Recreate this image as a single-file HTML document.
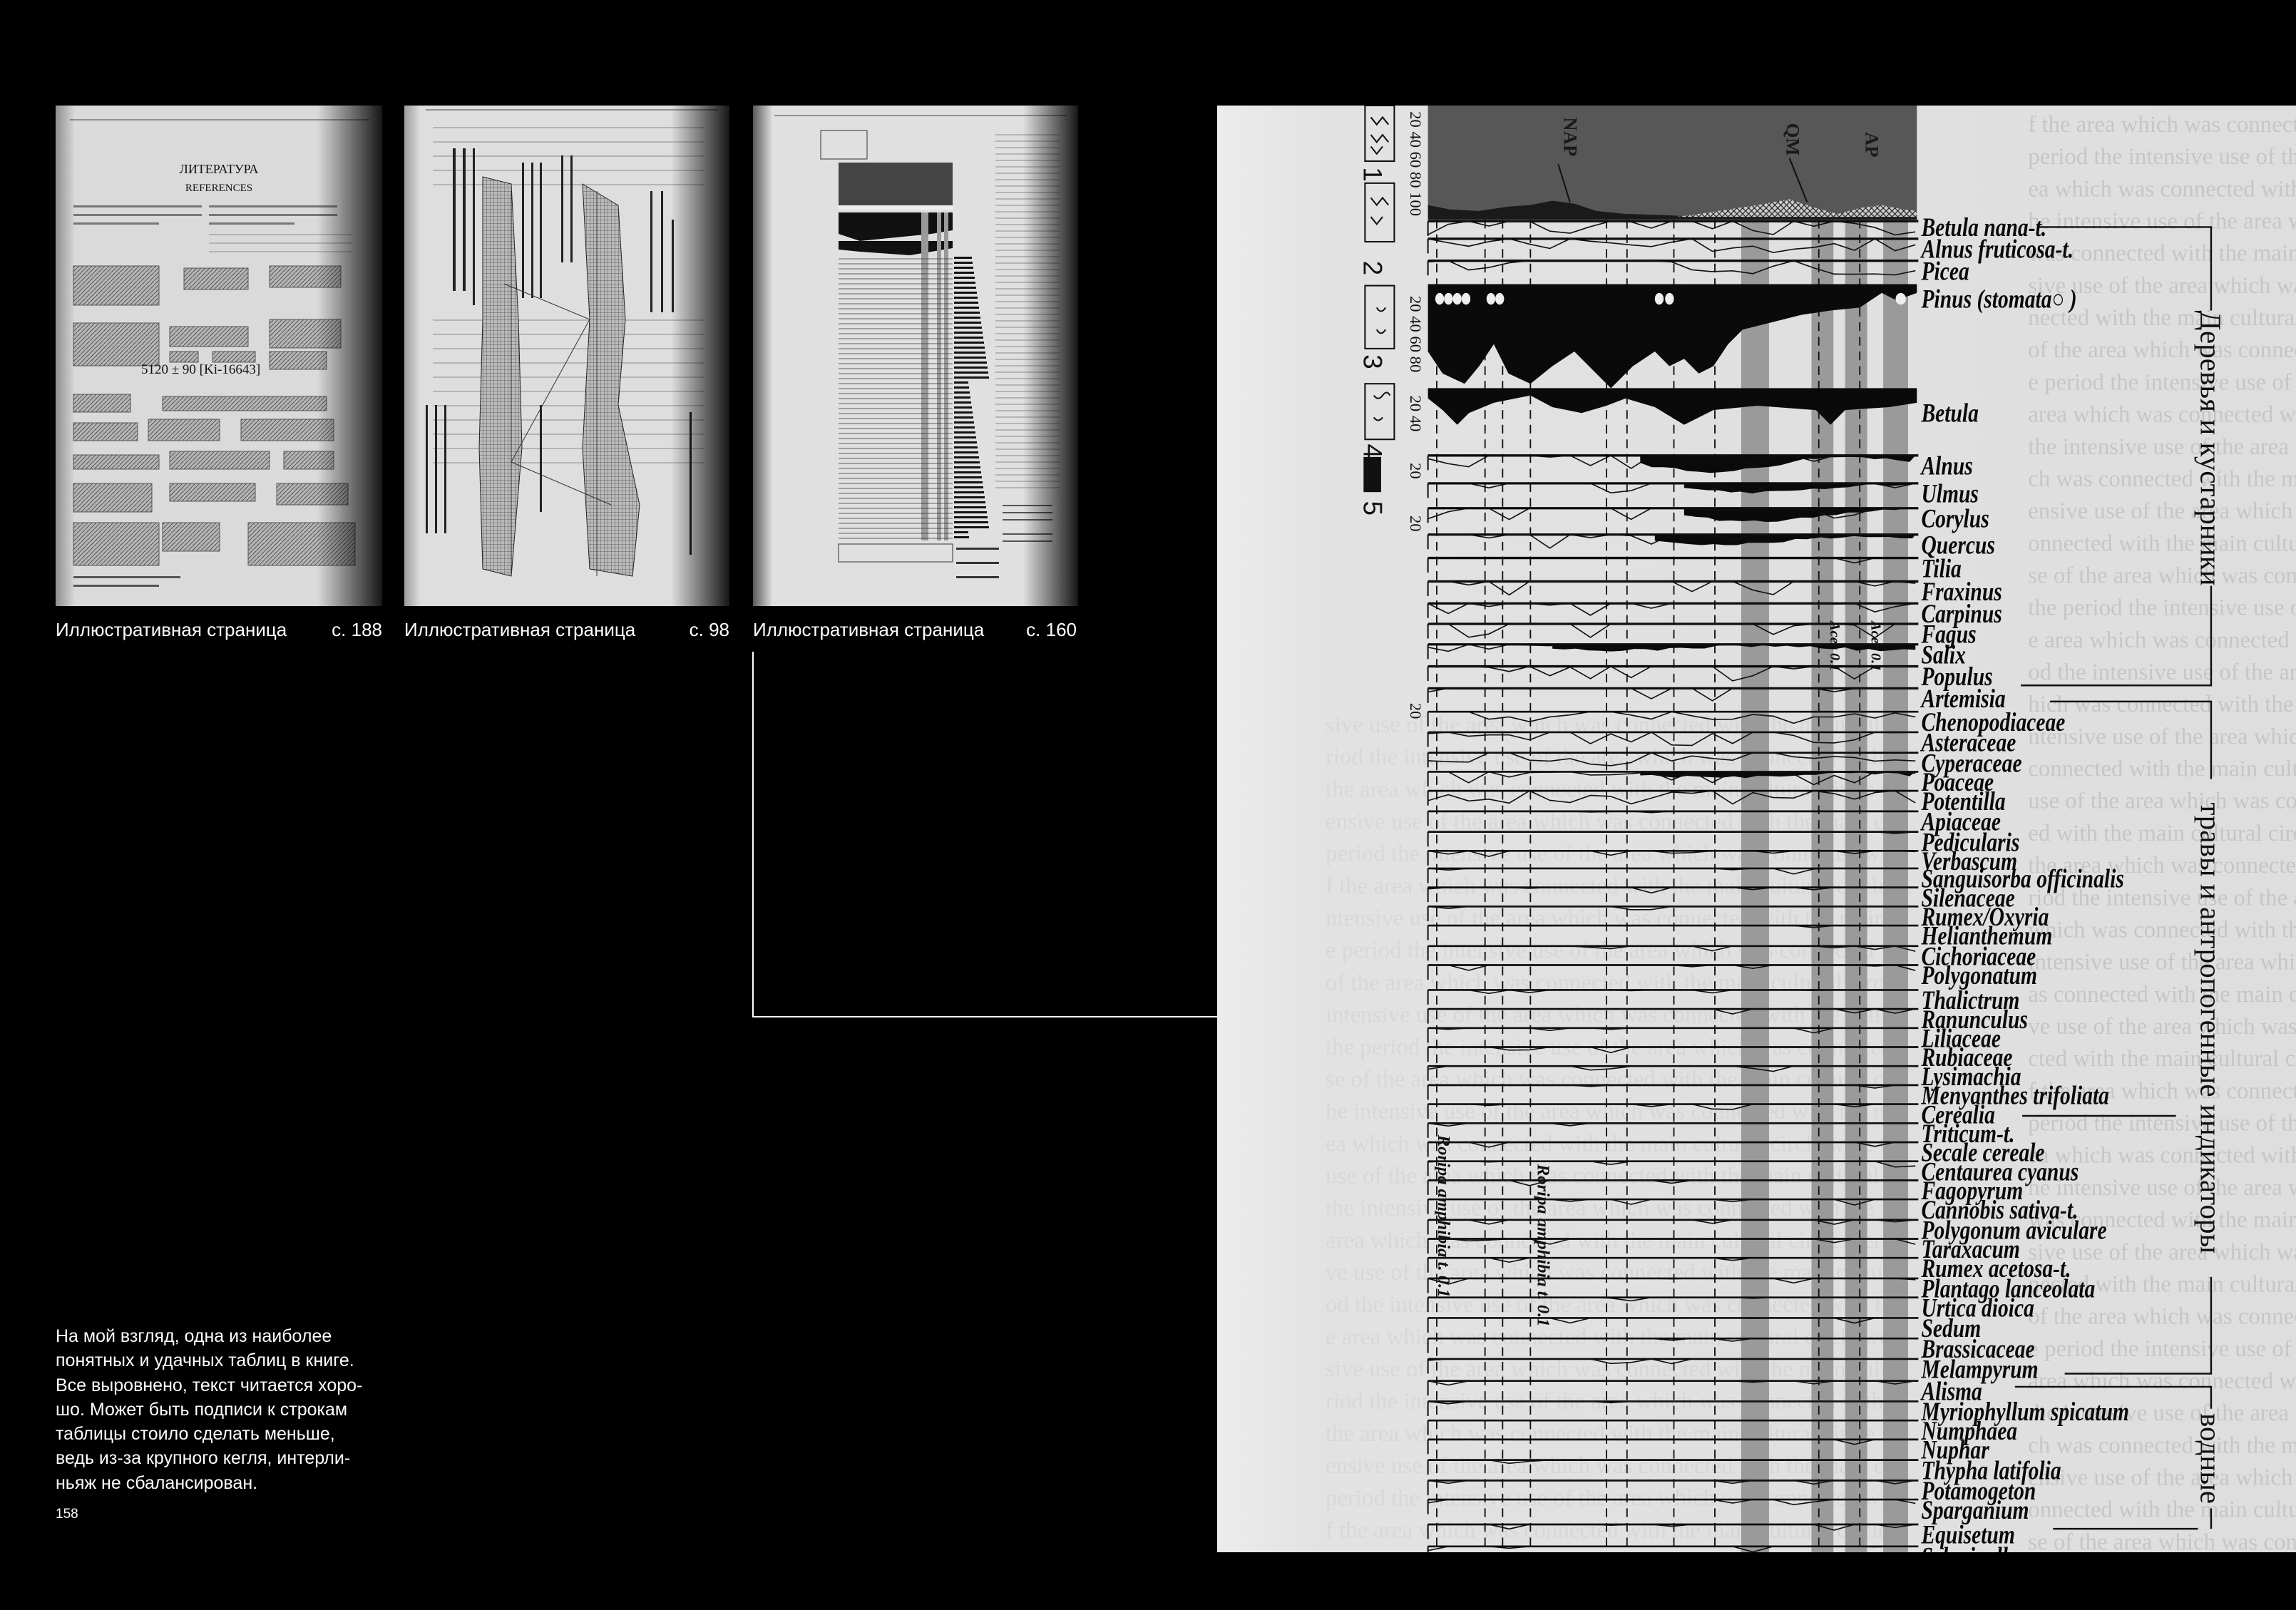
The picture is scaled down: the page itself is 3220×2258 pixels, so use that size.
<!DOCTYPE html>
<html><head><meta charset="utf-8">
<style>
html,body{margin:0;padding:0;background:#000;}
#root{position:relative;width:3220px;height:2258px;background:#000;overflow:hidden;font-family:"Liberation Sans",sans-serif;color:#fff;}
.th{position:absolute;top:148px;height:702px;}
.cap{position:absolute;top:866px;font-size:26px;line-height:34px;color:#fff;white-space:nowrap;}
.para{position:absolute;left:78px;top:1857px;font-size:25px;line-height:34.3px;color:#fff;}
</style></head>
<body><div id="root">

<!-- Thumbnail 1 -->
<svg class="th" style="left:78px;width:458px" viewBox="0 0 458 702" preserveAspectRatio="none">
<defs>
<linearGradient id="vg" x1="0" x2="1" y1="0" y2="0">
<stop offset="0" stop-color="#000" stop-opacity="0.35"/><stop offset="0.06" stop-color="#000" stop-opacity="0"/>
<stop offset="0.8" stop-color="#000" stop-opacity="0"/><stop offset="1" stop-color="#000" stop-opacity="0.9"/></linearGradient>
<pattern id="hp" width="6" height="6" patternUnits="userSpaceOnUse"><rect width="6" height="6" fill="#b5b5b5"/><path d="M0 6L6 0" stroke="#555" stroke-width="1"/></pattern>
</defs>
<rect width="458" height="702" fill="#dadada"/>
<line x1="20" y1="20" x2="440" y2="20" stroke="#444" stroke-width="1"/>
<text x="229" y="95" font-family="Liberation Serif" font-size="18" text-anchor="middle" fill="#111">ЛИТЕРАТУРА</text>
<text x="229" y="120" font-family="Liberation Serif" font-size="15" text-anchor="middle" fill="#111">REFERENCES</text>
<g fill="#777">
<rect x="25" y="140" width="180" height="3"/><rect x="25" y="152" width="180" height="3"/><rect x="25" y="164" width="120" height="3"/>
<rect x="215" y="140" width="180" height="3"/><rect x="215" y="152" width="180" height="3"/><rect x="215" y="164" width="120" height="3"/>
<rect x="215" y="180" width="200" height="2" opacity=".4"/><rect x="215" y="192" width="200" height="2" opacity=".4"/><rect x="215" y="204" width="200" height="2" opacity=".4"/>
</g>
<g fill="url(#hp)" stroke="#555">
<rect x="25" y="225" width="120" height="55"/><rect x="180" y="228" width="90" height="30"/><rect x="300" y="225" width="100" height="30"/>
<rect x="25" y="305" width="120" height="60"/><rect x="160" y="310" width="110" height="28"/><rect x="300" y="300" width="100" height="40"/>
<rect x="160" y="345" width="40" height="15"/><rect x="220" y="345" width="60" height="15"/><rect x="300" y="345" width="80" height="25"/>
<rect x="25" y="405" width="80" height="25"/><rect x="150" y="408" width="230" height="20"/>
<rect x="25" y="445" width="90" height="25"/><rect x="130" y="440" width="100" height="30"/><rect x="260" y="440" width="130" height="30"/>
<rect x="25" y="490" width="120" height="20"/><rect x="160" y="485" width="140" height="25"/><rect x="320" y="485" width="70" height="25"/>
<rect x="25" y="530" width="110" height="40"/><rect x="160" y="530" width="120" height="25"/><rect x="310" y="530" width="100" height="30"/>
<rect x="25" y="585" width="120" height="60"/><rect x="150" y="585" width="80" height="40"/><rect x="270" y="585" width="150" height="60"/>
</g>
<text x="120" y="376" font-family="Liberation Serif" font-size="19" fill="#111">5120 ± 90  [Ki-16643]</text>
<rect x="25" y="660" width="150" height="3" fill="#555"/><rect x="25" y="672" width="120" height="3" fill="#555"/>
<rect width="458" height="702" fill="url(#vg)"/>
</svg>

<!-- Thumbnail 2 -->
<svg class="th" style="left:567px;width:456px" viewBox="0 0 456 702" preserveAspectRatio="none">
<defs><linearGradient id="vg2" x1="0" x2="1"><stop offset="0" stop-color="#000" stop-opacity="0.3"/><stop offset="0.05" stop-color="#000" stop-opacity="0"/><stop offset="0.82" stop-color="#000" stop-opacity="0"/><stop offset="1" stop-color="#000" stop-opacity="0.9"/></linearGradient>
<pattern id="hp2" width="5" height="5" patternUnits="userSpaceOnUse"><rect width="5" height="5" fill="#bbb"/><path d="M0 0H5M0 0V5" stroke="#444" stroke-width="0.8"/></pattern></defs>
<rect width="456" height="702" fill="#dedede"/>
<line x1="30" y1="6" x2="440" y2="6" stroke="#444"/>
<g fill="#999" opacity=".6">
<rect x="40" y="30" width="380" height="2"/><rect x="40" y="50" width="380" height="2"/><rect x="40" y="70" width="380" height="2"/><rect x="40" y="90" width="380" height="2"/><rect x="40" y="110" width="380" height="2"/>
<rect x="40" y="300" width="380" height="2"/><rect x="40" y="320" width="380" height="2"/><rect x="40" y="340" width="380" height="2"/><rect x="40" y="360" width="380" height="2"/><rect x="40" y="380" width="380" height="2"/><rect x="40" y="400" width="380" height="2"/><rect x="40" y="420" width="380" height="2"/><rect x="40" y="440" width="380" height="2"/><rect x="40" y="460" width="380" height="2"/><rect x="40" y="480" width="380" height="2"/><rect x="40" y="500" width="380" height="2"/>
</g>
<g fill="#222">
<rect x="68" y="60" width="4" height="200"/><rect x="82" y="60" width="4" height="200"/><rect x="96" y="60" width="3" height="220"/>
<rect x="165" y="80" width="3" height="190"/><rect x="178" y="80" width="3" height="190"/><rect x="190" y="80" width="3" height="190"/>
<rect x="220" y="70" width="3" height="150"/><rect x="233" y="70" width="3" height="150"/>
<rect x="345" y="120" width="3" height="170"/><rect x="360" y="120" width="3" height="170"/><rect x="375" y="160" width="3" height="130"/>
<rect x="30" y="420" width="3" height="180"/><rect x="43" y="420" width="3" height="180"/><rect x="56" y="420" width="3" height="180"/>
<rect x="190" y="420" width="3" height="150"/><rect x="260" y="480" width="3" height="140"/><rect x="400" y="430" width="3" height="200"/>
</g>
<polygon points="110,100 150,110 160,300 165,480 150,660 110,650 105,480 110,300" fill="url(#hp2)" stroke="#222"/>
<polygon points="250,110 300,140 310,300 300,420 330,560 320,660 260,650 250,480 260,300" fill="url(#hp2)" stroke="#222"/>
<g stroke="#333" fill="none"><line x1="150" y1="120" x2="150" y2="660"/><line x1="270" y1="120" x2="270" y2="660"/><path d="M140 250 L260 300 L150 500 L290 560"/></g>
<rect width="456" height="702" fill="url(#vg2)"/>
</svg>

<!-- Thumbnail 3 -->
<svg class="th" style="left:1056px;width:456px" viewBox="0 0 456 702" preserveAspectRatio="none">
<defs><linearGradient id="vg3" x1="0" x2="1"><stop offset="0" stop-color="#000" stop-opacity="0.6"/><stop offset="0.06" stop-color="#000" stop-opacity="0"/><stop offset="0.83" stop-color="#000" stop-opacity="0"/><stop offset="1" stop-color="#000" stop-opacity="0.9"/></linearGradient></defs>
<rect width="456" height="702" fill="#e0e0e0"/>
<line x1="30" y1="14" x2="440" y2="14" stroke="#444"/>
<rect x="95" y="35" width="65" height="40" fill="none" stroke="#333"/>
<rect x="120" y="80" width="160" height="60" fill="#444"/>
<rect x="120" y="140" width="160" height="6" fill="#eee"/>
<polygon points="120,150 280,150 280,175 250,180 200,185 150,190 120,180" fill="#111"/>
<polygon points="120,190 280,190 280,200 220,210 150,205 120,202" fill="#111"/>
<g fill="#999"><rect x="236" y="150" width="10" height="460"/><rect x="258" y="150" width="6" height="460"/><rect x="268" y="150" width="6" height="460"/></g>
<g stroke="#333" stroke-width="0.7" id="t3l"></g>
<g fill="#111" id="t3t"></g>
<g fill="#999" opacity=".6" id="t3g"></g>
<rect x="120" y="615" width="160" height="25" fill="none" stroke="#333"/>
<rect x="285" y="620" width="60" height="3" fill="#333"/><rect x="285" y="640" width="60" height="3" fill="#333"/><rect x="285" y="660" width="60" height="3" fill="#333"/>
<rect x="350" y="560" width="70" height="2" fill="#555"/><rect x="350" y="570" width="70" height="2" fill="#555"/><rect x="350" y="580" width="70" height="2" fill="#555"/><rect x="350" y="600" width="70" height="2" fill="#555"/><rect x="350" y="610" width="70" height="2" fill="#555"/>
<rect width="456" height="702" fill="url(#vg3)"/>
</svg>

<div class="cap" style="left:78px">Иллюстративная страница</div>
<div class="cap" style="left:536px;transform:translateX(-100%)">с. 188</div>
<div class="cap" style="left:567px">Иллюстративная страница</div>
<div class="cap" style="left:1023px;transform:translateX(-100%)">с. 98</div>
<div class="cap" style="left:1056px">Иллюстративная страница</div>
<div class="cap" style="left:1510px;transform:translateX(-100%)">с. 160</div>

<div style="position:absolute;left:1055px;top:914px;width:2px;height:513px;background:#fff"></div>
<div style="position:absolute;left:1055px;top:1425px;width:652px;height:2px;background:#fff"></div>

<div class="para">На мой взгляд, одна из наиболее<br>понятных и удачных таблиц в книге.<br>Все выровнено, текст читается хоро-<br>шо. Может быть подписи к строкам<br>таблицы стоило сделать меньше,<br>ведь из-за крупного кегля, интерли-<br>ньяж не сбалансирован.</div>
<div style="position:absolute;left:78px;top:2113px;font-size:19px;color:#fff">158</div>

<!-- Main diagram panel -->
<svg id="main" style="position:absolute;left:1707px;top:148px;width:1513px;height:2029px" viewBox="831 72 737 988" preserveAspectRatio="none">
<defs>
<pattern id="xh" width="4" height="4" patternUnits="userSpaceOnUse"><rect width="4" height="4" fill="#ccc"/><path d="M0 0L4 4M4 0L0 4" stroke="#222" stroke-width="0.6"/></pattern>
<linearGradient id="pg" x1="0" x2="1"><stop offset="0" stop-color="#ececec"/><stop offset="0.1" stop-color="#e2e2e2"/><stop offset="1" stop-color="#dedede"/></linearGradient>
</defs>
<rect x="831" y="72" width="737" height="988" fill="url(#pg)"/>
<g id="ghost" font-family="Liberation Serif" font-size="16" fill="#c6c6c6"></g>

<!-- gray bands -->
<g fill="#9a9a9a">
<rect x="1189" y="150" width="19" height="910"/>
<rect x="1237" y="150" width="15" height="910"/>
<rect x="1260" y="150" width="15" height="910"/>
<rect x="1286" y="150" width="17" height="910"/>
</g>
<!-- dashed verticals -->
<g stroke="#111" stroke-width="0.9" stroke-dasharray="6 4">
<line x1="981" y1="150" x2="981" y2="1060"/><line x1="1014" y1="150" x2="1014" y2="1060"/><line x1="1026" y1="150" x2="1026" y2="1060"/><line x1="1045" y1="150" x2="1045" y2="1060"/><line x1="1097" y1="150" x2="1097" y2="1060"/><line x1="1111" y1="150" x2="1111" y2="1060"/><line x1="1143" y1="150" x2="1143" y2="1060"/><line x1="1171" y1="150" x2="1171" y2="1060"/><line x1="1242" y1="150" x2="1242" y2="1060"/><line x1="1270" y1="150" x2="1270" y2="1060"/>
</g>

<!-- top chart -->
<rect x="975" y="72" width="334" height="78" fill="#575757"/>
<polygon points="975,150 975,140 990,143 1010,144 1030,141 1045,140 1060,137 1075,139 1090,144 1110,146 1140,147 1160,148 1309,148 1309,150" fill="#1a1a1a"/>
<polygon points="1145,148 1160,146 1180,143 1200,140 1222,136 1240,142 1255,146 1270,142 1285,140 1300,143 1309,144 1309,148" fill="url(#xh)"/>
<polyline points="1064,112 1072,138" stroke="#111" stroke-width="1" fill="none"/>
<polyline points="1222,108 1234,138" stroke="#111" stroke-width="1" fill="none"/>
<g font-family="Liberation Serif" font-weight="bold" font-size="13" fill="#1a1a1a">
<text transform="translate(1068,80) rotate(90)">NAP</text>
<text transform="translate(1220,84) rotate(90)">QM</text>
<text transform="translate(1274,90) rotate(90)">AP</text>
</g>

<!-- Pinus -->
<polygon points="975,194 1309,194 1309,200 1295,205 1285,200 1270,210 1250,212 1230,215 1210,220 1190,225 1180,235 1170,250 1160,255 1150,245 1140,250 1130,240 1115,250 1100,265 1090,255 1075,240 1060,250 1045,262 1030,255 1020,235 1010,250 1000,262 985,255 975,240" fill="#0a0a0a"/>
<g fill="#eee"><ellipse cx="983" cy="204" rx="3" ry="4"/><ellipse cx="989" cy="204" rx="3" ry="4"/><ellipse cx="995" cy="204" rx="3" ry="4"/><ellipse cx="1001" cy="204" rx="3" ry="4"/><ellipse cx="1018" cy="204" rx="3" ry="4"/><ellipse cx="1024" cy="204" rx="3" ry="4"/><ellipse cx="1133" cy="204" rx="3" ry="4"/><ellipse cx="1140" cy="204" rx="3" ry="4"/><ellipse cx="1298" cy="204" rx="3.5" ry="4"/></g>
<!-- Betula -->
<polygon points="975,265 1309,265 1309,275 1290,278 1260,280 1250,290 1240,280 1200,277 1170,280 1150,290 1130,278 1110,272 1097,277 1080,282 1060,278 1045,270 1020,275 1003,282 995,290 985,280 975,272" fill="#0a0a0a"/>

<g id="rows"></g>
<g id="curves" fill="none" stroke="#111" stroke-width="0.8"></g>

<!-- left axis & legend -->
<g font-family="Liberation Serif" font-size="11" fill="#111">
<text transform="translate(963,76) rotate(90)">20 40 60 80 100</text>
<text transform="translate(963,202) rotate(90)">20 40 60 80</text>
<text transform="translate(963,270) rotate(90)">20 40</text>
<text transform="translate(963,316) rotate(90)">20</text>
<text transform="translate(963,352) rotate(90)">20</text>
<text transform="translate(963,480) rotate(90)">20</text>
</g>
<g fill="none" stroke="#111" stroke-width="1">
<rect x="932" y="72" width="20" height="38"/><rect x="932" y="125" width="20" height="40"/><rect x="932" y="195" width="20" height="43"/><rect x="932" y="262" width="20" height="38"/>
<path d="M936 80l4 5l4-5l4 5M936 92l4 5l4-5l4 5M936 100l4 5l4-5M936 135l4 5l4-5l4 5M936 148l4 5l4-5 M940 210q3 5 6 0 M940 225q3 5 6 0 M938 270q3 4 6 0q3-4 5 0 M938 285q3 4 6 0"/>
</g>
<rect x="931" y="312" width="12" height="24" fill="#111"/>
<g font-family="Liberation Sans" font-size="18" fill="#111">
<text transform="translate(931,114) rotate(90)">1</text>
<text transform="translate(931,178) rotate(90)">2</text>
<text transform="translate(931,242) rotate(90)">3</text>
<text transform="translate(931,303) rotate(90)">4</text>
<text transform="translate(931,342) rotate(90)">5</text>
</g>
<g font-family="Liberation Serif" font-weight="bold" font-style="italic" font-size="12" fill="#111">
<text transform="translate(982,775) rotate(90)">Roripa amphibia t. 0.1</text>
<text transform="translate(1050,795) rotate(90)">Roripa amphibia t. 0.1</text>
<text transform="translate(1250,424) rotate(90)" font-size="10">Acer 0.1</text>
<text transform="translate(1278,424) rotate(90)" font-size="10">Acer 0.1</text>
</g>

<!-- labels -->
<g id="labels" transform="translate(1312,0) scale(0.8,1)" font-family="Liberation Serif" font-weight="bold" font-style="italic" font-size="18" fill="#0a0a0a"></g>

<!-- brackets -->
<g stroke="#111" stroke-width="1.2" fill="none">
<polyline points="1392,155 1510,155 1510,212"/>
<polyline points="1510,400 1510,468 1380,468"/>
<polyline points="1400,479 1510,479 1510,532"/>
<polyline points="1510,872 1510,938 1410,938"/>
<line x1="1381" y1="762" x2="1486" y2="762"/>
<polyline points="1376,947 1510,947 1510,962"/>
<polyline points="1510,1030 1510,1044"/>
<line x1="1402" y1="1044" x2="1501" y2="1044"/>
</g>
<g font-family="Liberation Serif" font-size="20" fill="#111">
<text transform="translate(1503,306) rotate(90)" text-anchor="middle">Деревья и кустарники</text>
<text transform="translate(1503,702) rotate(90)" text-anchor="middle">травы и антропогенные индикаторы</text>
<text transform="translate(1503,996) rotate(90)" text-anchor="middle">водные</text>
</g>
</svg>

<script>
(function(){
var NS="http://www.w3.org/2000/svg";
var seed=7;function r(){seed=(seed*16807)%2147483647;return (seed-1)/2147483646;}
function el(t,a,p){var e=document.createElementNS(NS,t);for(var k in a)e.setAttribute(k,a[k]);p.appendChild(e);return e;}
var rows=[["Betula nana-t.",155],["Alnus fruticosa-t.",170],["Picea",185],["Pinus (stomata○ )",204],["Betula",282],["Alnus",318],["Ulmus",337],["Corylus",354],["Quercus",372],["Tilia",388],["Fraxinus",404],["Carpinus",419],["Fagus",433],["Salix",447],["Populus",462],["Artemisia",477],["Chenopodiaceae",493],["Asteraceae",507],["Cyperaceae",521],["Poaceae",534],["Potentilla",547],["Apiaceae",561],["Pedicularis",575],["Verbascum",588],["Sanguisorba officinalis",600],["Silenaceae",613],["Rumex/Oxyria",626],["Helianthemum",639],["Cichoriaceae",653],["Polygonatum",666],["Thalictrum",683],["Ranunculus",696],["Liliaceae",709],["Rubiaceae",722],["Lysimachia",735],["Menyanthes trifoliata",748],["Cerealia",761],["Triticum-t.",774],["Secale cereale",787],["Centaurea cyanus",800],["Fagopyrum",813],["Cannobis sativa-t.",826],["Polygonum aviculare",840],["Taraxacum",853],["Rumex acetosa-t.",866],["Plantago lanceolata",880],["Urtica dioica",893],["Sedum",907],["Brassicaceae",921],["Melampyrum",935],["Alisma",950],["Myriophyllum spicatum",964],["Numphaea",977],["Nuphar",990],["Thypha latifolia",1004],["Potamogeton",1018],["Sparganium",1031],["Equisetum",1048],["Selaginella sp.",1063]];
var lab=document.getElementById("labels"),rg=document.getElementById("rows"),cv=document.getElementById("curves");
rows.forEach(function(d,i){
 var t=el("text",{x:0,y:d[1]+6},lab);t.textContent=d[0];
 var ly=d[1]-7;
 if(i==0) ly=151;
 if(i==3||i==4) return;
 el("line",{x1:975,y1:ly,x2:1310,y2:ly,stroke:"#0a0a0a","stroke-width":i<16?1.6:1.3},rg);
 el("line",{x1:975,y1:ly,x2:975,y2:ly+10,stroke:"#111","stroke-width":1},rg);
 var pts=[],amp=i<16?10:(i<21?9:4),n=24;
 var prob=i<3?0.7:(i<16?0.3:(i<21?0.7:0.15));
 for(var k=0;k<=n;k++){var x=975+k*(333/n);var a=r()<prob?r()*amp:0;pts.push(x.toFixed(1)+","+(ly+a).toFixed(1));}
 el("polyline",{points:pts.join(" ")},cv);
});
[[318,1120,10],[337,1150,5],[354,1150,8],[372,1130,6],[447,1060,3],[534,1120,3]].forEach(function(b){
 var ly=b[0]-7,pts=[b[1]+","+ly];
 for(var x=b[1];x<=1308;x+=8){pts.push(x+","+(ly+b[2]*(0.5+0.5*Math.sin((x-b[1])/30))+ r()*2).toFixed(1));}
 pts.push("1308,"+ly);
 el("polygon",{points:pts.join(" "),fill:"#0a0a0a"},rg);
});
var g=document.getElementById("ghost");
var words="the period the intensive use of the area which was connected with the main cultural circle were the forests pollen indicators of agriculture breeding and the site analysis of";
for(var y=90;y<1060;y+=22){
 var t=el("text",{x:1385,y:y},g);t.textContent=words.substr((y*7)%60,34);
}
for(var y=500;y<1060;y+=22){
 var t=el("text",{x:905,y:y,opacity:0.35},g);t.textContent=words.substr((y*3)%40,60);
}
var l3=document.getElementById("t3l"),tt=document.getElementById("t3t"),tg=document.getElementById("t3g");
for(var y=215;y<610;y+=7){el("line",{x1:120,y1:y,x2:280,y2:y},l3);el("rect",{x:282,y:y-3,width:20+((y*13)%30),height:3},tt);}
for(var y=40;y<540;y+=9){el("rect",{x:340,y:y,width:90,height:2},tg);}
})();
</script>
</div></body></html>
